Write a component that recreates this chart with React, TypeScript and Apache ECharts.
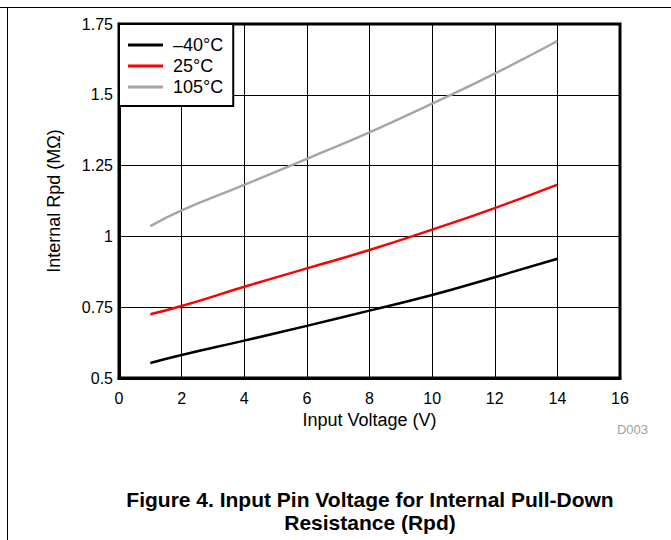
import React, { useEffect, useRef } from "react";
import * as echarts from "echarts";

const xValues = [1, 2, 4, 6, 8, 10, 12, 14];
const seriesNames = ["–40°C", "25°C", "105°C"];
const rpdMinus40 = [0.553, 0.581, 0.632, 0.684, 0.738, 0.793, 0.856, 0.921];
const rpd25 = [0.725, 0.754, 0.822, 0.887, 0.952, 1.024, 1.1, 1.183];
const rpd105 = [1.036, 1.092, 1.182, 1.274, 1.367, 1.469, 1.575, 1.69];
const seriesColors = ["#000000", "#ff0000", "#a6a6a6"];
const titleLines = ["Figure 4. Input Pin Voltage for Internal Pull-Down", "Resistance (Rpd)"];

const FONT = "'Liberation Sans', Arial, sans-serif";

export default function App() {
  const ref = useRef<HTMLDivElement>(null);
  useEffect(() => {
    if (!ref.current) return;
    const chart = echarts.init(ref.current, undefined, { renderer: "svg" });
    const dataSets = [rpdMinus40, rpd25, rpd105];
    chart.setOption({
      animation: false,
      backgroundColor: "#ffffff",
      textStyle: { fontFamily: FONT },
      grid: {
        left: 119,
        right: 51,
        top: 24,
        bottom: 162,
        show: true,
        borderColor: "#000",
        borderWidth: 3,
        backgroundColor: "transparent",
      },
      legend: {
        orient: "vertical",
        left: 119,
        top: 24,
        data: seriesNames,
        icon: "rect",
        itemWidth: 35,
        itemHeight: 3,
        itemGap: 3,
        padding: [12, 10, 10, 9],
        borderColor: "#000",
        borderWidth: 2,
        backgroundColor: "#fff",
        textStyle: { fontSize: 18, color: "#000", fontFamily: FONT, padding: [0, 0, 0, 5] },
      },
      xAxis: {
        type: "value",
        min: 0,
        max: 16,
        interval: 2,
        name: "Input Voltage (V)",
        nameLocation: "middle",
        nameGap: 32,
        nameTextStyle: { fontSize: 18, color: "#000", fontFamily: FONT },
        axisLine: { show: true, lineStyle: { color: "#000", width: 3 } },
        axisTick: { show: false },
        axisLabel: { fontSize: 16, color: "#000", margin: 12, fontFamily: FONT },
        splitLine: { show: true, lineStyle: { color: "#000", width: 1 } },
      },
      yAxis: {
        type: "value",
        min: 0.5,
        max: 1.75,
        interval: 0.25,
        name: "Internal Rpd (MΩ)",
        nameLocation: "middle",
        nameGap: 56,
        nameTextStyle: { fontSize: 18, color: "#000", fontFamily: FONT },
        axisLine: { show: true, lineStyle: { color: "#000", width: 3 } },
        axisTick: { show: false },
        axisLabel: {
          fontSize: 16,
          color: "#000",
          margin: 6,
          fontFamily: FONT,
          formatter: (v: number) => String(v),
        },
        splitLine: { show: true, lineStyle: { color: "#000", width: 1 } },
      },
      series: seriesNames.map((name, i) => ({
        name,
        type: "line",
        smooth: true,
        symbol: "none",
        data: xValues.map((x, j) => [x, dataSets[i][j]]),
        lineStyle: { color: seriesColors[i], width: 2.5 },
        itemStyle: { color: seriesColors[i] },
        z: 3,
      })),
      graphic: [
        {
          type: "line",
          shape: { x1: 0, y1: 7.5, x2: 671, y2: 7.5 },
          style: { stroke: "#000", lineWidth: 1 },
        },
        {
          type: "line",
          shape: { x1: 7.5, y1: 7, x2: 7.5, y2: 540 },
          style: { stroke: "#000", lineWidth: 1 },
        },
        {
          type: "text",
          right: 23,
          top: 423,
          style: { text: "D003", fill: "#a0a0a0", font: `13px ${FONT}` },
        },
        {
          type: "text",
          x: 370,
          y: 499,
          style: {
            text: titleLines[0],
            fill: "#000",
            font: `bold 21px ${FONT}`,
            textAlign: "center",
            textVerticalAlign: "middle",
          },
        },
        {
          type: "text",
          x: 370,
          y: 522,
          style: {
            text: titleLines[1],
            fill: "#000",
            font: `bold 21px ${FONT}`,
            textAlign: "center",
            textVerticalAlign: "middle",
          },
        },
      ],
    });
    return () => chart.dispose();
  }, []);
  return (
    <div
      ref={ref}
      style={{ position: "fixed", left: 0, top: 0, width: 671, height: 540 }}
    />
  );
}
